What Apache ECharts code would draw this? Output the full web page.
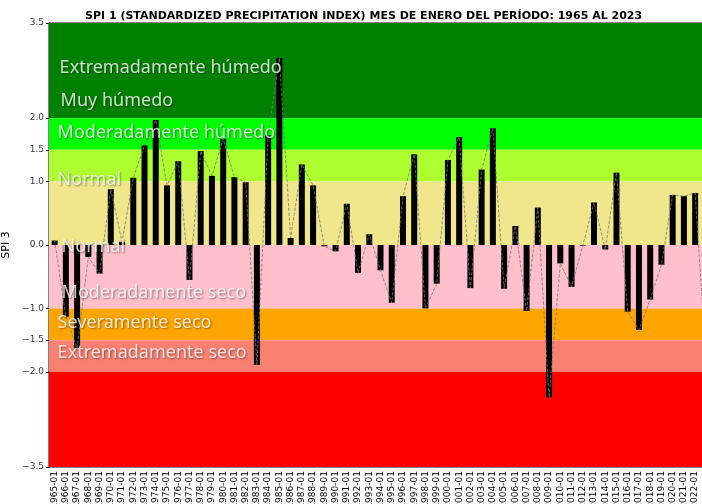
<!DOCTYPE html>
<html>
<head>
<meta charset="utf-8">
<script src="https://cdn.jsdelivr.net/npm/echarts@6/dist/echarts.min.js"></script>
<style>
  html, body { margin: 0; padding: 0; background: #fff; }
  #chart { width: 702px; height: 504px; }
</style>
</head>
<body>
<div id="chart"></div>
<script>
// años (enero de cada año)
var years = [];
for (var y = 1965; y <= 2023; y++) { years.push(y + '-01'); }

// SPI
var spiValues = [
  0.07, -1.13, -1.63, -0.19, -0.45, 0.88, 0.05, 1.06, 1.57, 1.97,
  0.94, 1.32, -0.55, 1.48, 1.09, 1.67, 1.07, 0.99, -1.89, 1.73,
  2.95, 0.11, 1.27, 0.94, -0.02, -0.10, 0.65, -0.44, 0.17, -0.40,
  -0.91, 0.77, 1.43, -1.00, -0.61, 1.34, 1.70, -0.68, 1.19, 1.84,
  -0.69, 0.30, -1.04, 0.59, -2.40, -0.29, -0.66, -0.01, 0.67, -0.07,
  1.14, -1.05, -1.34, -0.86, -0.31, 0.79, 0.77, 0.82, -1.90
];

// marcas del eje y
var yTicks = [3.5, 2.0, 1.5, 1.0, 0.0, -1.0, -1.5, -2.0, -3.5];

// franjas de fondo: limites y colores
var bandFrom  = [2.0, 1.5, 1.0, 0.0, -1.0, -1.5, -2.0, -3.5];
var bandTo    = [3.5, 2.0, 1.5, 1.0, 0.0, -1.0, -1.5, -2.0];
var bandColor = ['#008000', '#00ff00', '#adff2f', '#f0e68c', '#ffc0cb', '#ffa500', '#fa8072', '#ff0000'];

// textos de categoria y su altura (valor SPI)
var bandText = ['Extremadamente húmedo', 'Muy húmedo', 'Moderadamente húmedo', 'Normal',
                'Normal', 'Moderadamente seco', 'Severamente seco', 'Extremadamente seco'];
var bandTextY = [2.80, 2.28, 1.76, 1.02, -0.03, -0.76, -1.23, -1.70];
var bandTextDx = [2, 3, 0, 0, 4, 4, 0, 0];

var myChart = echarts.init(document.getElementById('chart'));

var areas = [];
for (var i = 0; i < bandFrom.length; i++) {
  areas.push([
    { yAxis: bandFrom[i], itemStyle: { color: bandColor[i], opacity: 1 } },
    { yAxis: bandTo[i] }
  ]);
}

var labelData = [];
for (var j = 0; j < bandText.length; j++) {
  labelData.push({
    value: [0, bandTextY[j]],
    name: bandText[j],
    label: { offset: [bandTextDx[j], 0] }
  });
}

function fmtTick(v) {
  var s = Math.abs(v).toFixed(1);
  return v < 0 ? '\u2212' + s : s;
}

var option = {
  animation: false,
  title: {
    text: 'SPI 1 (STANDARDIZED PRECIPITATION INDEX) MES DE ENERO DEL PERÍODO: 1965 AL 2023',
    left: 80,
    top: 6,
    textStyle: { fontFamily: 'DejaVu Sans', fontWeight: 'bold', fontSize: 11, color: '#000' }
  },
  grid: {
    left: 49, right: -10, top: 23, bottom: 37,
    outerBoundsMode: 'none',
    containLabel: false,
    show: true, borderColor: '#000', borderWidth: 1
  },
  xAxis: {
    type: 'category',
    data: years,
    boundaryGap: true,
    axisLine: { lineStyle: { color: '#000' } },
    axisTick: { alignWithLabel: true, length: 3, lineStyle: { color: '#000' } },
    axisLabel: {
      rotate: 90, interval: 0, fontSize: 9, margin: 4,
      fontFamily: 'DejaVu Sans', color: '#000'
    },
    splitLine: { show: false }
  },
  yAxis: {
    type: 'value',
    min: -3.5, max: 3.5, interval: 0.5,
    name: 'SPI 3',
    nameLocation: 'middle',
    nameGap: 36,
    nameTextStyle: { fontFamily: 'DejaVu Sans', fontSize: 11, color: '#000' },
    axisLine: { show: true, lineStyle: { color: '#000' } },
    axisTick: { show: true, length: 3, customValues: yTicks, lineStyle: { color: '#000' } },
    axisLabel: {
      customValues: yTicks, formatter: fmtTick,
      fontFamily: 'DejaVu Sans', fontSize: 9, color: '#333', margin: 5
    },
    splitLine: { show: false }
  },
  series: [
    {
      name: 'SPI',
      type: 'bar',
      data: spiValues,
      barWidth: 6,
      itemStyle: { color: '#000' },
      z: 3,
      markArea: { silent: true, z: 1, data: areas }
    },
    {
      name: 'linea',
      type: 'line',
      data: spiValues,
      symbol: 'none',
      lineStyle: { color: '#777', width: 0.8, type: 'dashed' },
      z: 4
    },
    {
      name: 'categorias',
      type: 'scatter',
      data: labelData,
      symbolSize: 0,
      z: 10,
      label: {
        show: true,
        position: 'right',
        distance: 3,
        formatter: function (p) { return p.name; },
        fontFamily: 'Noto Sans',
        fontSize: 18,
        color: '#fff',
        textShadowColor: 'rgba(0,0,0,0.55)',
        textShadowBlur: 2,
        textShadowOffsetX: 1,
        textShadowOffsetY: 1
      }
    }
  ]
};

myChart.setOption(option);
</script>
</body>
</html>
